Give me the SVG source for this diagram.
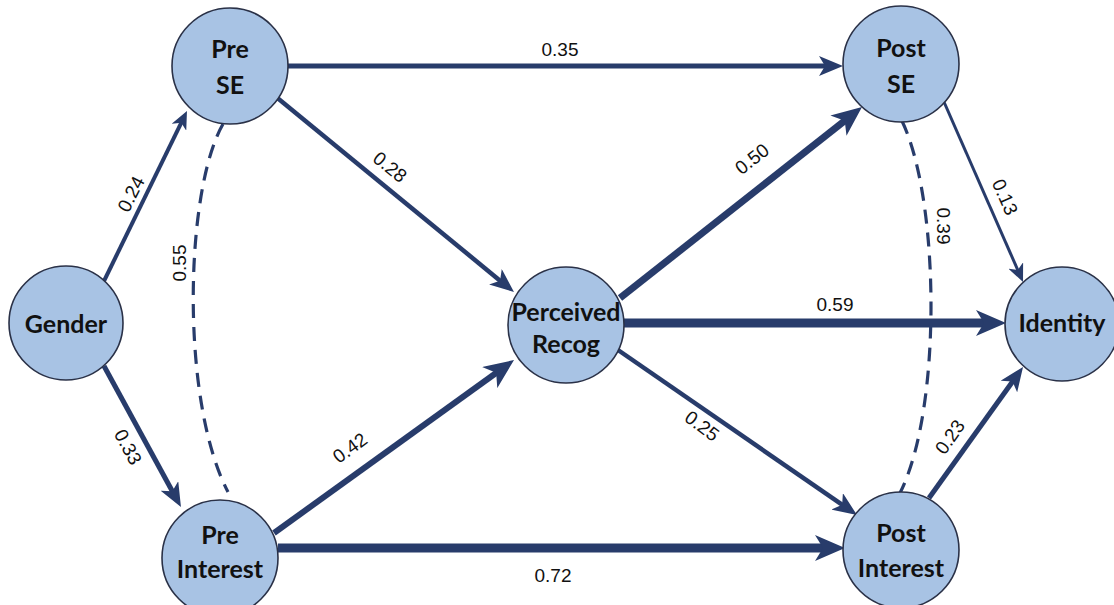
<svg xmlns="http://www.w3.org/2000/svg" width="1114" height="605" viewBox="0 0 1114 605">
<style>
.node circle{fill:#a8c3e4;stroke:#2a3147;stroke-width:1.6}
.node text{font-family:"Lato","Liberation Sans",sans-serif;font-weight:bold;font-size:25px;fill:#111;text-anchor:middle;dominant-baseline:central}
.e{stroke:#283c6b;fill:none}
.d{stroke:#283c6b;fill:none;stroke-width:3.2;stroke-dasharray:14 9}
.lbl{font-family:"Liberation Sans",sans-serif;font-size:19px;fill:#111;text-anchor:middle;dominant-baseline:central}
</style>
<defs>
<marker id="aS" markerUnits="userSpaceOnUse" markerWidth="18" markerHeight="16" refX="6" refY="8" orient="auto"><path d="M0,0 L18,8 L0,16 L5,8 z" fill="#283c6b"/></marker>
<marker id="aM" markerUnits="userSpaceOnUse" markerWidth="24" markerHeight="20" refX="8" refY="10" orient="auto"><path d="M0,0 L24,10 L0,20 L6,10 z" fill="#283c6b"/></marker>
<marker id="aL" markerUnits="userSpaceOnUse" markerWidth="30" markerHeight="26" refX="10" refY="13" orient="auto"><path d="M0,0 L30,13 L0,26 L8,13 z" fill="#283c6b"/></marker>
</defs>
<rect width="1114" height="605" fill="#fff"/>
<g id="connectors">
<line class="e" x1="104" y1="281" x2="181.7" y2="121.8" stroke-width="4" marker-end="url(#aS)"/>
<line class="e" x1="104" y1="366" x2="173.3" y2="493" stroke-width="5" marker-end="url(#aM)"/>
<line class="e" x1="288" y1="66" x2="827" y2="66" stroke-width="5" marker-end="url(#aM)"/>
<line class="e" x1="275" y1="96" x2="501.6" y2="281.9" stroke-width="4.5" marker-end="url(#aM)"/>
<line class="e" x1="274" y1="533" x2="497.8" y2="371.7" stroke-width="6" marker-end="url(#aL)"/>
<line class="e" x1="278" y1="548" x2="825" y2="548" stroke-width="9" marker-end="url(#aL)"/>
<line class="e" x1="620" y1="298" x2="846.3" y2="119.4" stroke-width="7" marker-end="url(#aL)"/>
<line class="e" x1="624" y1="323" x2="986" y2="323" stroke-width="9" marker-end="url(#aL)"/>
<line class="e" x1="618" y1="350" x2="843.8" y2="505.9" stroke-width="4.5" marker-end="url(#aM)"/>
<line class="e" x1="944" y1="102" x2="1018.2" y2="271" stroke-width="3" marker-end="url(#aS)"/>
<line class="e" x1="929" y1="498" x2="1013.7" y2="380" stroke-width="5" marker-end="url(#aM)"/>
<path class="d" d="M223,124 C185,190 180,400 228,492"/>
<path class="d" d="M902,121 C940,200 942,410 900,493"/>
<text class="lbl" transform="translate(131,194) rotate(-63)">0.24</text>
<text class="lbl" transform="translate(128,447) rotate(62)">0.33</text>
<text class="lbl" x="560" y="49">0.35</text>
<text class="lbl" transform="translate(390,167) rotate(39)">0.28</text>
<text class="lbl" transform="translate(350,448) rotate(-36)">0.42</text>
<text class="lbl" x="553" y="575">0.72</text>
<text class="lbl" transform="translate(752,159) rotate(-38)">0.50</text>
<text class="lbl" x="835" y="304">0.59</text>
<text class="lbl" transform="translate(702,426) rotate(37)">0.25</text>
<text class="lbl" transform="translate(1005,197) rotate(66)">0.13</text>
<text class="lbl" transform="translate(950,437) rotate(-55)">0.23</text>
<text class="lbl" transform="translate(179,263) rotate(-90)">0.55</text>
<text class="lbl" transform="translate(943,226) rotate(90)">0.39</text>
</g>
<g id="gender" class="node"><circle cx="66" cy="323" r="57"/><text x="66" y="323">Gender</text></g>
<g id="pre-se" class="node"><circle cx="230" cy="66" r="58"/><text x="230" y="48">Pre</text><text x="230" y="84">SE</text></g>
<g id="pre-interest" class="node"><circle cx="220" cy="558" r="58"/><text x="220" y="534">Pre</text><text x="220" y="568">Interest</text></g>
<g id="perceived-recog" class="node"><circle cx="566" cy="325" r="58"/><text x="566" y="311">Perceived</text><text x="566" y="343">Recog</text></g>
<g id="post-se" class="node"><circle cx="901" cy="64" r="58"/><text x="901" y="47">Post</text><text x="901" y="83">SE</text></g>
<g id="post-interest" class="node"><circle cx="901" cy="550" r="58"/><text x="901" y="532">Post</text><text x="901" y="567">Interest</text></g>
<g id="identity" class="node"><circle cx="1062" cy="324" r="57"/><text x="1062" y="322">Identity</text></g>
</svg>
